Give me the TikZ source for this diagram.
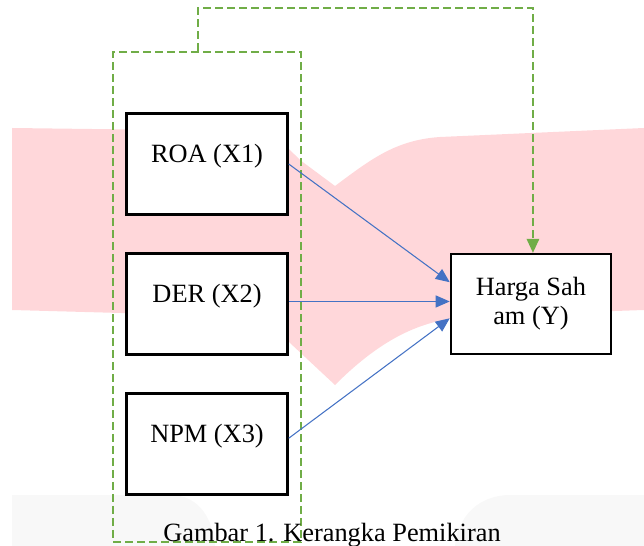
\documentclass[tikz,border=0pt]{standalone}
\usepackage{fontspec}
\setmainfont{Liberation Serif}
\usetikzlibrary{arrows.meta}
\definecolor{wmpink}{RGB}{255,215,218}
\definecolor{wmgray}{RGB}{248,248,248}
\definecolor{linkblue}{RGB}{68,114,196}
\definecolor{groupgreen}{RGB}{112,173,71}
\tikzstyle{varbox} = [rectangle, 
draw=black, 
line width=1.4pt, 
fill=white, 
minimum width=3.22cm, 
inner xsep=0pt, inner ysep=0pt, 
text height=0.98cm, 
text depth=1.04cm, 
text centered]
\tikzstyle{ybox} = [rectangle, 
draw=black, 
line width=1.4pt, 
fill=white, 
minimum width=3.2cm, 
minimum height=2cm, 
align=center]
\tikzstyle{groupbox} = [rectangle, draw=groupgreen, line width=1.5pt, 
dash pattern=on 0.16cm off 0.08cm, 
minimum width=3.76cm, minimum height=9.8cm]
\tikzstyle{arrow} = [line width=0.6pt, draw=linkblue, -{Triangle[length=0.28cm, width=0.24cm]}]
\tikzstyle{grouparrow} = [line width=1.5pt, draw=groupgreen, dash pattern=on 0.16cm off 0.08cm, 
-{Triangle[length=0.28cm, width=0.26cm, fill=groupgreen, line width=0pt]}]
\begin{document}
\begin{tikzpicture}[x=0.02cm, y=-0.02cm, node distance=2.8cm, font=\fontsize{15}{16.5}\selectfont]
        \useasboundingbox (0,0) rectangle (644,546);
        % watermark
        \fill[wmpink] (12,128) -- (250,131) .. controls (275,135) .. (300,160) -- (335,186)
            .. controls (370,160) and (395,140) .. (440,137) -- (644,128) -- (644,310) -- (470,316)
            .. controls (430,320) and (390,330) .. (335,385) -- (290,343)
            .. controls (270,320) .. (230,316) -- (12,310) -- cycle;
        \fill[wmgray] (12,546) -- (12,495) -- (170,495) .. controls (200,495) and (213,520) .. (215,546) -- cycle;
        \fill[wmgray] (455,546) .. controls (458,515) and (480,495) .. (510,495) -- (644,495) -- (644,546) -- cycle;
        \node (grp) [groupbox] at (207,297) {};
        \node (roa) [varbox] at (207,164) {ROA (X1)};
        \node (der) [varbox, below of=roa] {DER (X2)};
        \node (npm) [varbox, below of=der] {NPM (X3)};
        \node (harga) [ybox, right of=der, node distance=6.48cm] {Harga Sah\\am (Y)};
        \coordinate (top) at (198,8);
        \draw [arrow] (roa.east) -- (harga.165);
        \draw [arrow] ([yshift=0.05cm]der.east) -- ([yshift=0.05cm]harga.west);
        \draw [arrow] (npm.4) -- (harga.190);
        \draw [grouparrow] (grp.north -| top) -- (top) -| ([xshift=0.04cm]harga.north);
        \node (caption) [anchor=base] at (332,541) {Gambar 1. Kerangka Pemikiran};
    \end{tikzpicture}
\end{document}
